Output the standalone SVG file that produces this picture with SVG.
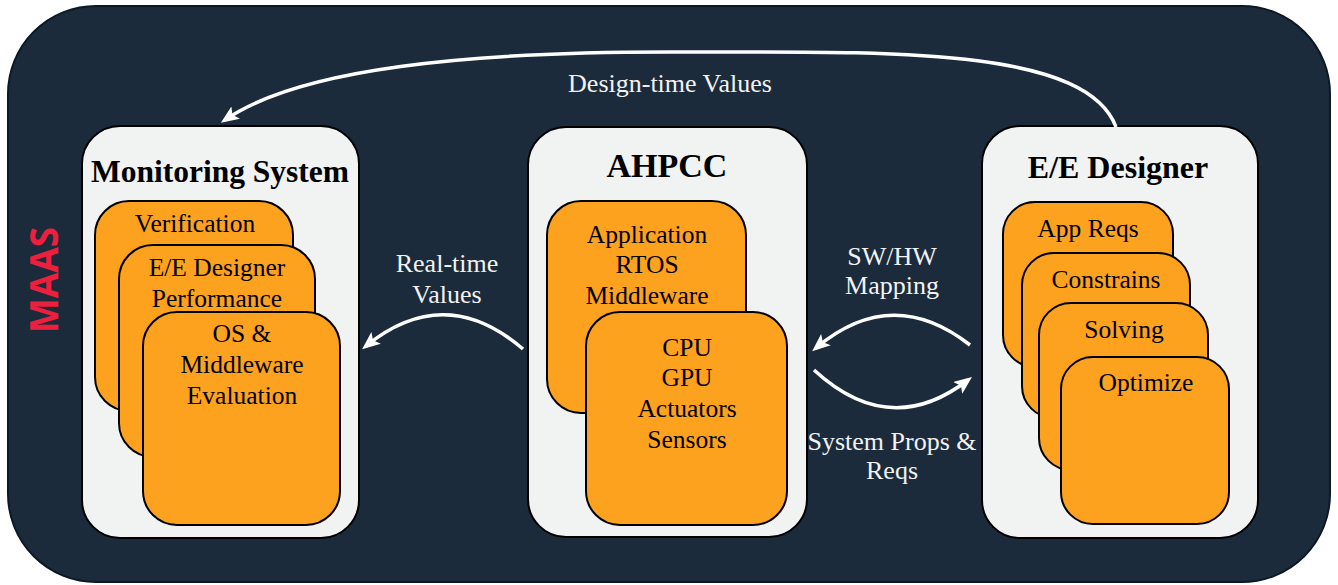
<svg xmlns="http://www.w3.org/2000/svg" width="1338" height="585" viewBox="0 0 1338 585">
<defs>
<style>
text{font-family:'Liberation Serif','Times New Roman',Times,serif}
.panel{fill:#f1f2f2;stroke:#000;stroke-width:2}
.card{fill:#fca21f;stroke:#000;stroke-width:2}
.title{font-weight:bold;font-size:32px;fill:#000;text-anchor:middle}
.txt{font-size:25.5px;fill:#000;text-anchor:middle}
.lbl{font-size:26px;fill:#f2f2f2;text-anchor:middle}
.conn{fill:none;stroke:#fff;stroke-width:3.5;marker-end:url(#ah)}
</style>
<marker id="ah" viewBox="0 0 18 15" refX="13" refY="7.5" markerWidth="18" markerHeight="15" markerUnits="userSpaceOnUse" orient="auto">
<path d="M0,0 L18,7.5 L0,15 L4,7.5 z" fill="#fff"/>
</marker>
</defs>

<g id="maas">
<rect x="8" y="6" width="1322" height="576" rx="88" ry="88" fill="#1c2b3b" stroke="#0c1825" stroke-width="2"/>
<text x="58" y="280" transform="rotate(-90 58 280)" style="font-family:'Open Sans','Liberation Sans',Arial,sans-serif" font-weight="bold" font-size="40" fill="#ec1f3d" text-anchor="middle" textLength="106" lengthAdjust="spacingAndGlyphs">MAAS</text>
</g>

<g id="monitoring">
<rect class="panel" x="82" y="126" width="277" height="412" rx="38"/>
<text class="title" x="220" y="182" textLength="258" lengthAdjust="spacingAndGlyphs">Monitoring System</text>
<rect class="card" x="95" y="201" width="198" height="210" rx="34"/>
<text class="txt" x="195" y="232">Verification</text>
<rect class="card" x="119" y="245" width="196" height="212" rx="34"/>
<text class="txt" x="217" y="276">E/E Designer</text>
<text class="txt" x="217" y="307">Performance</text>
<rect class="card" x="143" y="312" width="197" height="213" rx="34"/>
<text class="txt" x="242" y="342">OS &amp;</text>
<text class="txt" x="242" y="373">Middleware</text>
<text class="txt" x="242" y="404">Evaluation</text>
</g>

<g id="ahpcc">
<rect class="panel" x="528" y="127" width="279" height="410" rx="38"/>
<text class="title" x="667" y="177" style="font-size:34px">AHPCC</text>
<rect class="card" x="547" y="201" width="199" height="212" rx="34"/>
<text class="txt" x="647" y="243">Application</text>
<text class="txt" x="647" y="273">RTOS</text>
<text class="txt" x="647" y="304">Middleware</text>
<rect class="card" x="586" y="312" width="201" height="213" rx="34"/>
<text class="txt" x="687" y="356">CPU</text>
<text class="txt" x="687" y="386">GPU</text>
<text class="txt" x="687" y="417">Actuators</text>
<text class="txt" x="687" y="448">Sensors</text>
</g>

<g id="ee-designer">
<rect class="panel" x="982" y="126" width="276" height="412" rx="38"/>
<text class="title" x="1118" y="178">E/E Designer</text>
<rect class="card" x="1003" y="202" width="170" height="165" rx="32"/>
<text class="txt" x="1088" y="237">App Reqs</text>
<rect class="card" x="1022" y="253" width="168" height="165" rx="32"/>
<text class="txt" x="1106" y="288">Constrains</text>
<rect class="card" x="1039" y="303" width="169" height="167" rx="32"/>
<text class="txt" x="1124" y="338">Solving</text>
<rect class="card" x="1061" y="357" width="168" height="167" rx="32"/>
<text class="txt" x="1146" y="391">Optimize</text>
</g>

<g id="connectors">
<path class="conn" d="M1116,127 C1085,45 880,52 670,52 C470,52 300,68 225,120"/>
<text class="lbl" x="670" y="92">Design-time Values</text>
<path class="conn" d="M523,349 Q445,282 366,346"/>
<text class="lbl" x="447" y="272">Real-time</text>
<text class="lbl" x="447" y="303">Values</text>
<path class="conn" d="M970,345 Q892,284 816,348"/>
<text class="lbl" x="892" y="265">SW/HW</text>
<text class="lbl" x="892" y="294">Mapping</text>
<path class="conn" d="M814,370 Q890,440 968,380"/>
<text class="lbl" x="892" y="450">System Props &amp;</text>
<text class="lbl" x="892" y="479">Reqs</text>
</g>
</svg>
